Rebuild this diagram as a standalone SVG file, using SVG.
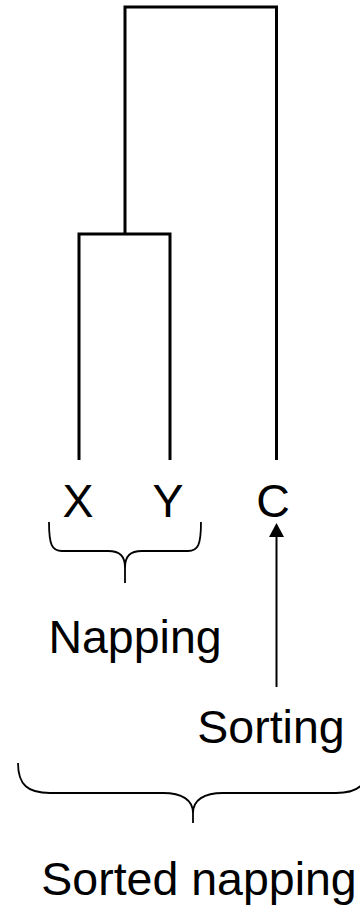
<svg xmlns="http://www.w3.org/2000/svg" width="360" height="909" viewBox="0 0 360 909">
  <style>
    .tree { fill: none; stroke: #000; stroke-width: 3; stroke-linejoin: miter; }
    .brace { fill: none; stroke: #000; stroke-width: 1.8; }
    .arrow { fill: none; stroke: #000; stroke-width: 2; }
    .label { font-family: "Liberation Sans", Arial, sans-serif; font-size: 46.5px; fill: #000; text-anchor: middle; }
  </style>

  <!-- dendrogram links and the sorting arrow -->
  <g id="connectors">
    <path class="tree" d="M125,234 V7 H276.5 V460"/>
    <path class="tree" d="M79,460 V234 H170 V460"/>
    <path class="arrow" d="M276.5,687 V537"/>
    <path d="M269,537 L276.5,523 L284,537 Z" fill="#000"/>
  </g>

  <!-- leaves -->
  <g id="node-x"><text class="label" x="78" y="517">X</text></g>
  <g id="node-y"><text class="label" x="168" y="517">Y</text></g>
  <g id="node-c"><text class="label" x="273" y="517">C</text></g>

  <!-- napping group brace -->
  <g id="napping">
    <path class="brace" d="M49,522 C49,545 52,551 62,551 L108,551 C120,551 125,556 125,568 L125,583 M125,568 C125,556 130,551 142,551 L188,551 C198,551 201,545 201,522"/>
    <text class="label" x="135" y="653">Napping</text>
  </g>

  <!-- sorting label -->
  <g id="sorting">
    <text class="label" x="271" y="743">Sorting</text>
  </g>

  <!-- sorted napping brace -->
  <g id="sorted-napping">
    <path class="brace" d="M18,763 C18,785 28,793 50,793 L163,793 C182,793 193,800 193,813 L193,823 M193,813 C193,800 204,793 223,793 L336,793 C358,793 368,785 368,763"/>
    <text class="label" x="199" y="895">Sorted napping</text>
  </g>
</svg>
